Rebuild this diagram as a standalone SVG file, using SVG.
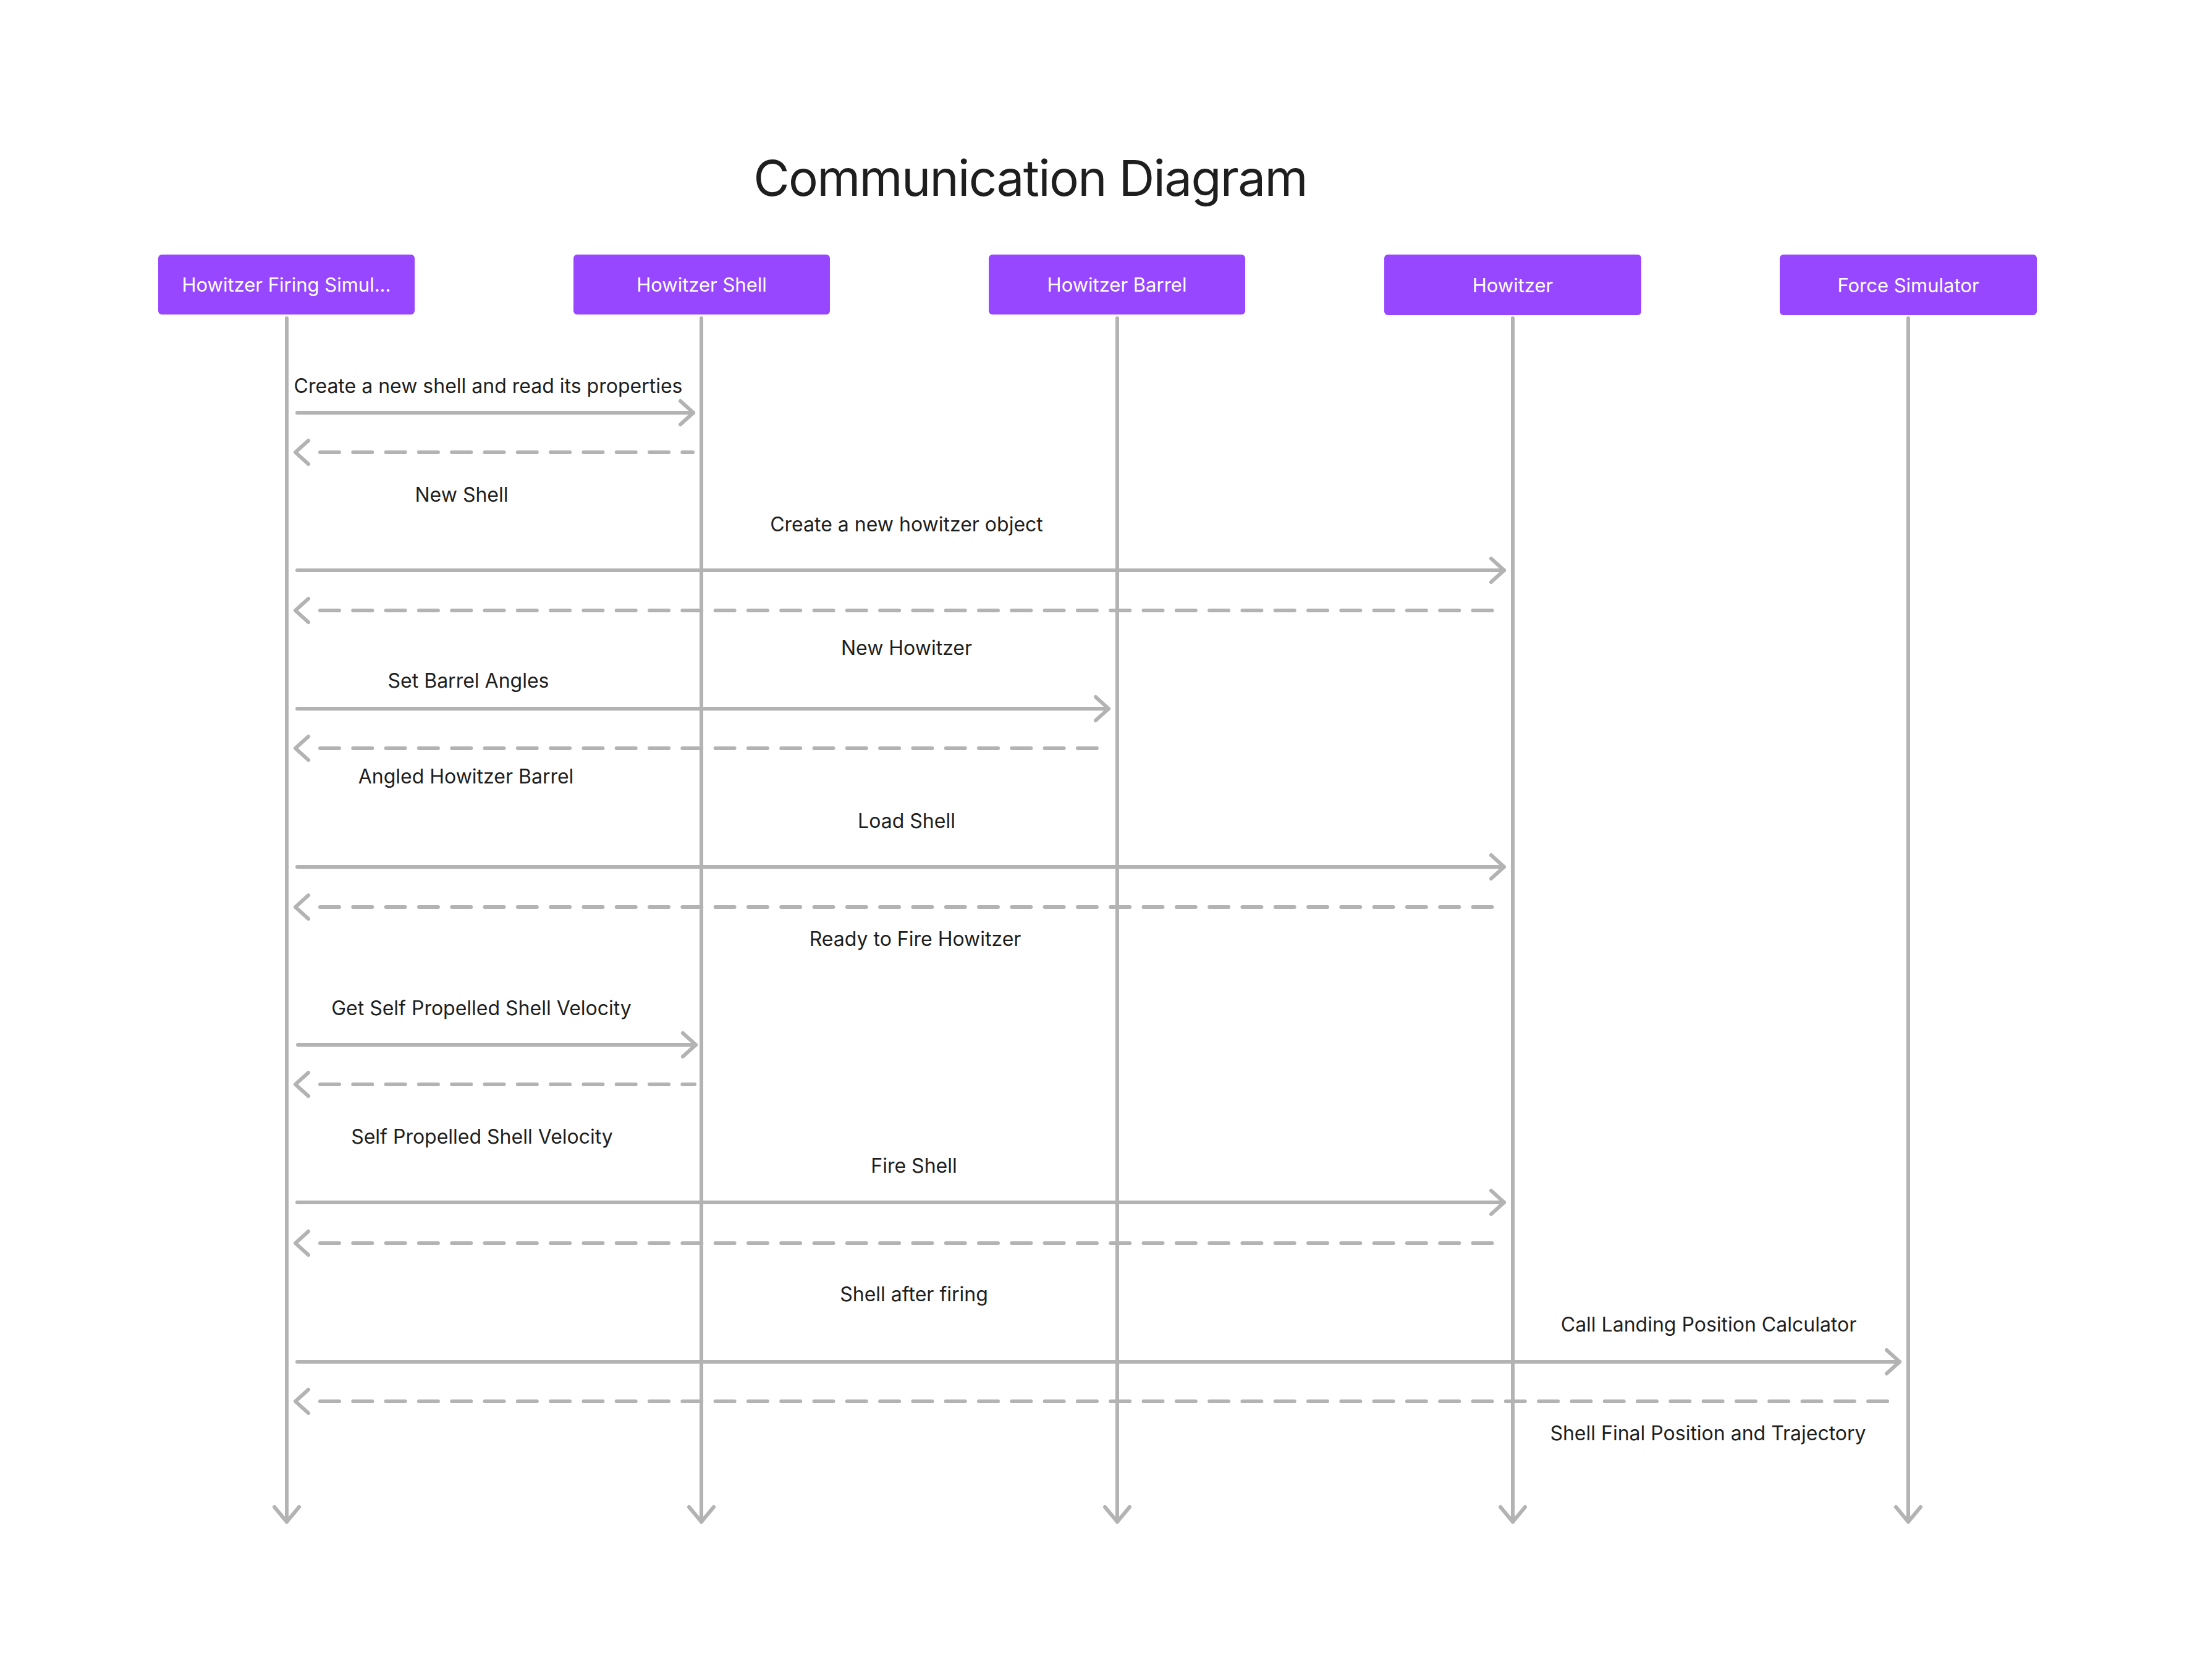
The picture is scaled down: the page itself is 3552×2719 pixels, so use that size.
<svg xmlns="http://www.w3.org/2000/svg" xmlns:xlink="http://www.w3.org/1999/xlink" width="3552" height="2719" viewBox="0 0 3552 2719">
<style>
.bg{fill:#FFFFFF}
.title{font-family:Inter,"Liberation Sans",sans-serif;font-size:80px;fill:#1E1E1E;text-anchor:middle;letter-spacing:-1.7px}
.box{fill:#9747FF}
.boxt{font-family:Inter,"Liberation Sans",sans-serif;font-size:31px;fill:#FFFFFF;text-anchor:middle}
.lbl{font-family:Inter,"Liberation Sans",sans-serif;font-size:32px;fill:#1E1E1E;text-anchor:middle}
.life,.msg,.ret,.head{fill:none;stroke:#B3B3B3;stroke-width:6;stroke-linecap:round;stroke-linejoin:round}
.ret{stroke-dasharray:31 22.3}
</style>
<defs>
<path id="hR" d="M-21,-19 L0,0 L-21,19"/>
<path id="hL" d="M21,-19 L0,0 L21,19"/>
<path id="hD" d="M-20,-24 L0,0 L20,-24"/>
</defs>
<rect class="bg" x="0" y="0" width="3552" height="2719"/>
<text class="title" x="1667" y="317">Communication Diagram</text>

<g id="node-simulator"><rect class="box" x="256" y="412" width="415" height="97" rx="6"/><text class="boxt" x="463.5" y="472">Howitzer Firing Simul...</text></g>
<g id="node-shell"><rect class="box" x="928" y="412" width="415" height="97" rx="6"/><text class="boxt" x="1135.5" y="472">Howitzer Shell</text></g>
<g id="node-barrel"><rect class="box" x="1600" y="412" width="415" height="97" rx="6"/><text class="boxt" x="1807.5" y="472">Howitzer Barrel</text></g>
<g id="node-howitzer"><rect class="box" x="2240" y="412" width="416" height="98" rx="6"/><text class="boxt" x="2448" y="473">Howitzer</text></g>
<g id="node-force"><rect class="box" x="2880" y="412" width="416" height="98" rx="6"/><text class="boxt" x="3088" y="473">Force Simulator</text></g>

<g id="connectors">
<path class="life" d="M464,515 V2463"/><use class="head" href="#hD" x="464" y="2463"/>
<path class="life" d="M1135,515 V2463"/><use class="head" href="#hD" x="1135" y="2463"/>
<path class="life" d="M1808,515 V2463"/><use class="head" href="#hD" x="1808" y="2463"/>
<path class="life" d="M2448,515 V2463"/><use class="head" href="#hD" x="2448" y="2463"/>
<path class="life" d="M3088,515 V2463"/><use class="head" href="#hD" x="3088" y="2463"/>

<path class="msg" d="M481,668 H1122"/><use class="head" href="#hR" x="1122" y="668"/>
<text class="lbl" x="790" y="636">Create a new shell and read its properties</text>
<path class="ret" d="M518,732 H1121"/><use class="head" href="#hL" x="478" y="732"/>
<text class="lbl" x="747" y="812">New Shell</text>

<path class="msg" d="M481,923 H2434"/><use class="head" href="#hR" x="2434" y="923"/>
<text class="lbl" x="1467" y="860">Create a new howitzer object</text>
<path class="ret" d="M518,988 H2433"/><use class="head" href="#hL" x="478" y="988"/>
<text class="lbl" x="1467" y="1060">New Howitzer</text>

<path class="msg" d="M481,1147 H1794"/><use class="head" href="#hR" x="1794" y="1147"/>
<text class="lbl" x="758" y="1113">Set Barrel Angles</text>
<path class="ret" d="M518,1211 H1794"/><use class="head" href="#hL" x="478" y="1211"/>
<text class="lbl" x="754" y="1268">Angled Howitzer Barrel</text>

<path class="msg" d="M481,1403 H2434"/><use class="head" href="#hR" x="2434" y="1403"/>
<text class="lbl" x="1467" y="1340">Load Shell</text>
<path class="ret" d="M518,1468 H2433"/><use class="head" href="#hL" x="478" y="1468"/>
<text class="lbl" x="1481" y="1531">Ready to Fire Howitzer</text>

<path class="msg" d="M482,1691 H1126"/><use class="head" href="#hR" x="1126" y="1691"/>
<text class="lbl" x="779" y="1643">Get Self Propelled Shell Velocity</text>
<path class="ret" d="M518,1755 H1124"/><use class="head" href="#hL" x="478" y="1755"/>
<text class="lbl" x="780" y="1851">Self Propelled Shell Velocity</text>

<path class="msg" d="M481,1946 H2434"/><use class="head" href="#hR" x="2434" y="1946"/>
<text class="lbl" x="1479" y="1898">Fire Shell</text>
<path class="ret" d="M518,2012 H2433"/><use class="head" href="#hL" x="478" y="2012"/>
<text class="lbl" x="1479" y="2106">Shell after firing</text>

<path class="msg" d="M481,2204 H3074"/><use class="head" href="#hR" x="3074" y="2204"/>
<text class="lbl" x="2765" y="2155">Call Landing Position Calculator</text>
<path class="ret" d="M518,2268 H3074"/><use class="head" href="#hL" x="478" y="2268"/>
<text class="lbl" x="2764" y="2331">Shell Final Position and Trajectory</text>
</g>
</svg>
